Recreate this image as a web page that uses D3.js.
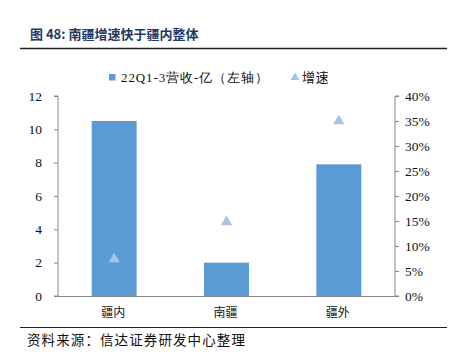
<!DOCTYPE html>
<html><head><meta charset="utf-8">
<script src="https://cdn.jsdelivr.net/npm/d3@7"></script>
<style>body{margin:0;background:#fff}svg{display:block}</style>
</head><body>
<svg id="c" width="452" height="356"></svg>
<script>
const categories = ["疆内", "南疆", "疆外"];
const revenue = [10.5, 2.0, 7.9];
const growth = [0.074, 0.148, 0.35];
const leftTicks = [0, 2, 4, 6, 8, 10, 12];
const rightTicks = [0, 0.05, 0.10, 0.15, 0.20, 0.25, 0.30, 0.35, 0.40];
const seriesNames = ["22Q1-3营收-亿（左轴）", "增速"];
const titleText = "图 48: 南疆增速快于疆内整体";
const sourceText = "资料来源：信达证券研发中心整理";

const svg = d3.select("#c");
const L = 58, R = 395, T = 96, B = 296;
const x = d3.scaleBand().domain(categories).range([L, R]).paddingInner(0.6).paddingOuter(0.3);
const yL = d3.scaleLinear().domain([0, 12]).range([B, T]);
const yR = d3.scaleLinear().domain([0, 0.4]).range([B, T]);
const cjk = "'Noto Sans CJK SC', sans-serif";
const serif = "'Liberation Serif', 'DejaVu Serif', serif";

// title
svg.append("text").attr("x", 30).attr("y", 39).attr("fill", "#1f3864")
  .style("font-family", cjk).attr("font-weight", "bold").attr("font-size", 13).text(titleText);
svg.append("line").attr("x1", 20).attr("x2", 447).attr("y1", 48.5).attr("y2", 48.5).attr("stroke", "#222").attr("stroke-width", 1.5);
svg.append("line").attr("x1", 20).attr("x2", 447).attr("y1", 327.5).attr("y2", 327.5).attr("stroke", "#222").attr("stroke-width", 1.2);
svg.append("text").attr("x", 27).attr("y", 345).attr("fill", "#111")
  .style("font-family", cjk).attr("font-size", 13.5).attr("letter-spacing", 1.1).text(sourceText);

// bars
svg.append("g").selectAll("rect").data(revenue).join("rect")
  .attr("x", (d, i) => x(categories[i])).attr("width", x.bandwidth())
  .attr("y", d => yL(d)).attr("height", d => B - yL(d)).attr("fill", "#5b9bd5");

// triangles
const tri = d3.symbol().type(d3.symbolTriangle).size(55);
svg.append("g").selectAll("path").data(growth).join("path")
  .attr("d", tri).attr("transform", (d, i) => `translate(${x(categories[i]) + x.bandwidth() / 2},${yR(d)})`)
  .attr("fill", "#a9c3e6");

// axes
const axL = svg.append("g").attr("transform", `translate(${L},0)`)
  .call(d3.axisLeft(yL).tickValues(leftTicks).tickSize(4).tickPadding(12));
const axR = svg.append("g").attr("transform", `translate(${R},0)`)
  .call(d3.axisRight(yR).tickValues(rightTicks).tickSize(4).tickPadding(6).tickFormat(d3.format(".0%")));
[axL, axR].forEach(a => {
  a.attr("font-family", null);
  a.select(".domain").attr("stroke", "#888");
  a.selectAll(".tick line").attr("stroke", "#888");
  a.selectAll(".tick text").style("font-family", serif).attr("font-size", 13.5).attr("fill", "#111");
});
axL.select(".domain").attr("d", `M-4,${T}H0V${B}H-4`);
axR.select(".domain").attr("d", `M4,${T}H0V${B}H4`);
svg.append("line").attr("x1", L).attr("x2", R).attr("y1", B + 0.5).attr("y2", B + 0.5).attr("stroke", "#888");

// category labels
svg.append("g").selectAll("text").data(categories).join("text")
  .attr("x", d => x(d) + x.bandwidth() / 2 - 1).attr("y", 317).attr("text-anchor", "middle")
  .style("font-family", cjk).attr("font-size", 12).attr("fill", "#111").text(d => d);

// legend
const lg = svg.append("g");
lg.append("rect").attr("x", 109).attr("y", 74).attr("width", 6.5).attr("height", 6.5).attr("fill", "#5b9bd5");
lg.append("text").attr("x", 121).attr("y", 81.5).style("font-family", serif).attr("font-size", 13).attr("letter-spacing", 0.9).attr("fill", "#111").text(seriesNames[0]);
lg.append("path").attr("d", d3.symbol().type(d3.symbolTriangle).size(34)).attr("transform", "translate(295,77.5)").attr("fill", "#a9c3e6");
lg.append("text").attr("x", 302).attr("y", 81.5).style("font-family", cjk).attr("font-size", 13).attr("letter-spacing", 0.5).attr("fill", "#111").text(seriesNames[1]);
</script>
</body></html>
